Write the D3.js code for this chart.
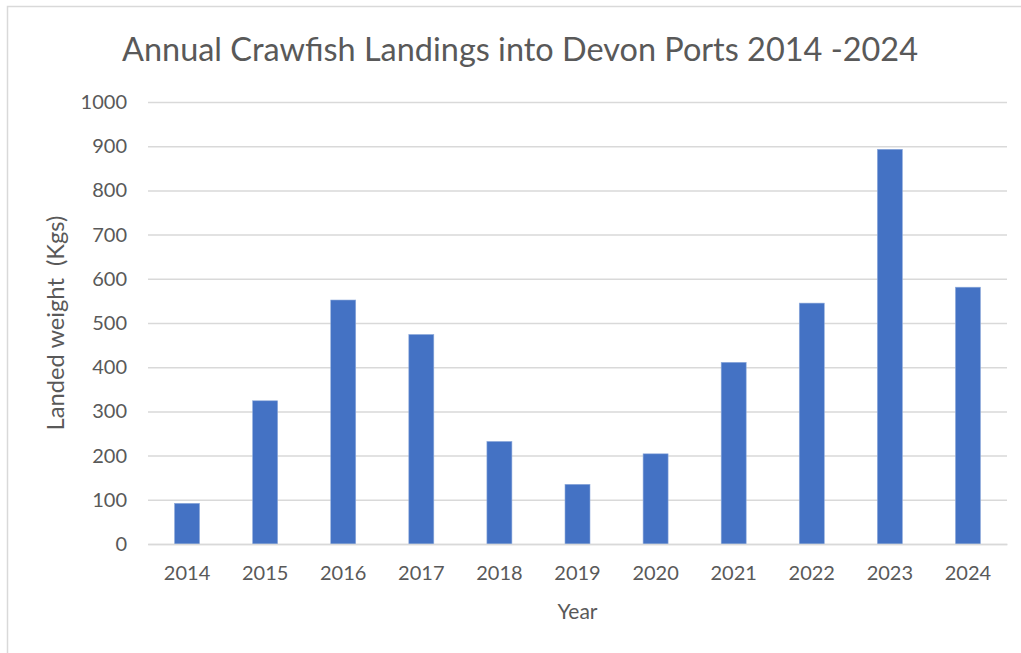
<!DOCTYPE html>
<html>
<head>
<meta charset="utf-8">
<script src="https://cdn.jsdelivr.net/npm/d3@7"></script>
<style>
  body { margin: 0; background: #fff; }
  svg { display: block; }
</style>
</head>
<body>
<svg id="chart"></svg>
<script>
const years = ["2014", "2015", "2016", "2017", "2018", "2019", "2020", "2021", "2022", "2023", "2024"];
const landed = [92, 324, 552, 474, 232, 135, 204, 411, 545, 893, 581];
const yTicks = [0, 100, 200, 300, 400, 500, 600, 700, 800, 900, 1000];

const titleText = "Annual Crawfish Landings into Devon Ports 2014 -2024";
const yTitle = "Landed weight  (Kgs)";
const xTitle = "Year";

const W = 1021, H = 653;
const margin = {top: 102, left: 148, right: 14, bottom: 109};
const font = "Lato, 'Open Sans', sans-serif";
const textColor = "#595959";
const gridColor = "#d9d9d9";

const svg = d3.select("#chart").attr("width", W).attr("height", H);

// chart border (only top/left visible in the picture)
svg.append("rect")
  .attr("x", 7.5).attr("y", 6.5)
  .attr("width", W + 20).attr("height", H + 20)
  .attr("fill", "none")
  .attr("stroke", gridColor)
  .attr("stroke-width", 1.5);

const x = d3.scaleBand()
  .domain(years)
  .range([margin.left, W - margin.right])
  .paddingInner(0.68)
  .paddingOuter(0.34);

const y = d3.scaleLinear()
  .domain([0, 1000])
  .range([H - margin.bottom, margin.top]);

// gridlines + y labels
const yAxis = d3.axisLeft(y)
  .tickValues(yTicks)
  .tickFormat(d3.format("d"))
  .tickSize(-(W - margin.right - margin.left))
  .tickPadding(21);

const gy = svg.append("g")
  .attr("transform", `translate(${margin.left},0)`)
  .call(yAxis);
gy.select(".domain").remove();
gy.selectAll(".tick line").attr("stroke", gridColor).attr("stroke-width", 1.5);
gy.selectAll(".tick text")
  .attr("fill", textColor)
  .attr("font-family", font)
  .attr("font-size", 20);

// bars
svg.append("g")
  .selectAll("rect")
  .data(years.map((yr, i) => ({year: yr, value: landed[i]})))
  .join("rect")
  .attr("x", d => x(d.year))
  .attr("y", d => y(d.value))
  .attr("width", x.bandwidth())
  .attr("height", d => y(0) - y(d.value))
  .attr("fill", "#4472c4")
  .attr("stroke", "#8eaadb")
  .attr("stroke-width", 0.6);

// x axis
const xAxis = d3.axisBottom(x).tickSize(0).tickPadding(22);
const gx = svg.append("g")
  .attr("transform", `translate(0,${y(0)})`)
  .call(xAxis);
gx.select(".domain").attr("stroke", gridColor).attr("stroke-width", 1.5);
gx.selectAll(".tick text")
  .attr("fill", textColor)
  .attr("font-family", font)
  .attr("font-size", 20);

// fit text to a measured width from the reference
function fitWidth(sel, target) {
  const len = sel.node().getComputedTextLength();
  const fs = parseFloat(sel.attr("font-size"));
  sel.attr("font-size", fs * target / len);
}

const title = svg.append("text")
  .attr("x", 520)
  .attr("y", 61)
  .attr("text-anchor", "middle")
  .attr("fill", textColor)
  .attr("font-family", font)
  .attr("font-size", 32)
  .text(titleText);
fitWidth(title, 796);

const yt = svg.append("text")
  .attr("transform", `translate(64,${(y(0) + y(1000)) / 2}) rotate(-90)`)
  .attr("text-anchor", "middle")
  .attr("fill", textColor)
  .attr("font-family", font)
  .attr("font-size", 20)
  .style("white-space", "pre")
  .text(yTitle);
fitWidth(yt, 215);

svg.append("text")
  .attr("x", (margin.left + W - margin.right) / 2)
  .attr("y", 619)
  .attr("text-anchor", "middle")
  .attr("fill", textColor)
  .attr("font-family", font)
  .attr("font-size", 21)
  .text(xTitle);
</script>
</body>
</html>
